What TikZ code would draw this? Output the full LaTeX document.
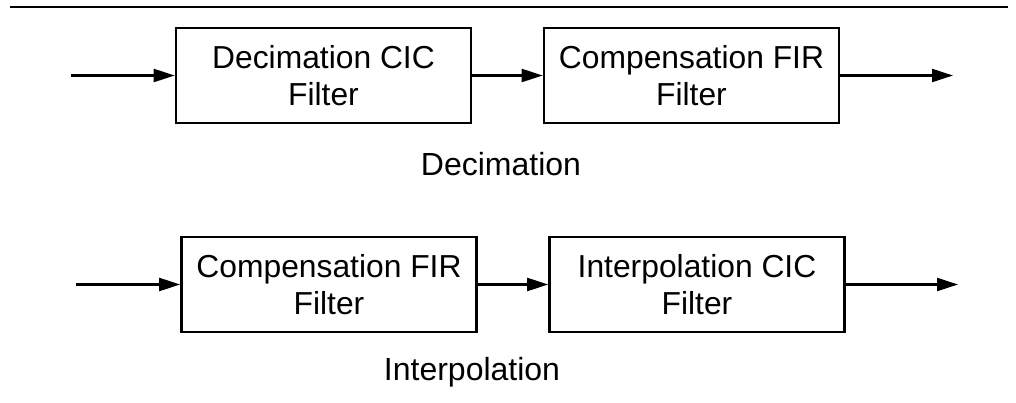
\documentclass[tikz,border=0pt]{standalone}
\usepackage{fontspec}
\setmainfont{Liberation Sans}
\usetikzlibrary{arrows.meta}
\begin{document}
\begin{tikzpicture}[x=1pt,y=-1pt,
  blk/.style={draw,line width=2.6pt,minimum width=295pt,minimum height=95pt,inner sep=0pt,align=center,font=\fontsize{31.8}{37}\selectfont},
  lbl/.style={anchor=base,inner sep=0pt,font=\fontsize{32}{37}\selectfont},
  conn/.style={line width=2.2pt,-{Triangle[length=21pt,width=13pt]}}]
\useasboundingbox (0,0) rectangle (1016,403);
\draw[line width=2.6pt] (10,7) -- (1008,7);
% Decimation row
\node[blk] (b1) at (323.5,75.5) {Decimation CIC\\Filter};
\node[blk] (b2) at (691.5,75.5) {Compensation FIR\\Filter};
\coordinate (in1) at (71,75.5);
\coordinate (out1) at (953,75.5);
\draw[conn] (in1) -- (b1.west);
\draw[conn] (b1.east) -- (b2.west);
\draw[conn] (b2.east) -- (out1);
\node[lbl] (l1) at (501,176) {Decimation};
% Interpolation row
\node[blk] (b3) at (329,284.5) {Compensation FIR\\Filter};
\node[blk] (b4) at (697,284.5) {Interpolation CIC\\Filter};
\coordinate (in2) at (76,284.5);
\coordinate (out2) at (958,284.5);
\draw[conn] (in2) -- (b3.west);
\draw[conn] (b3.east) -- (b4.west);
\draw[conn] (b4.east) -- (out2);
\node[lbl] (l2) at (472,380) {Interpolation};
\end{tikzpicture}
\end{document}
